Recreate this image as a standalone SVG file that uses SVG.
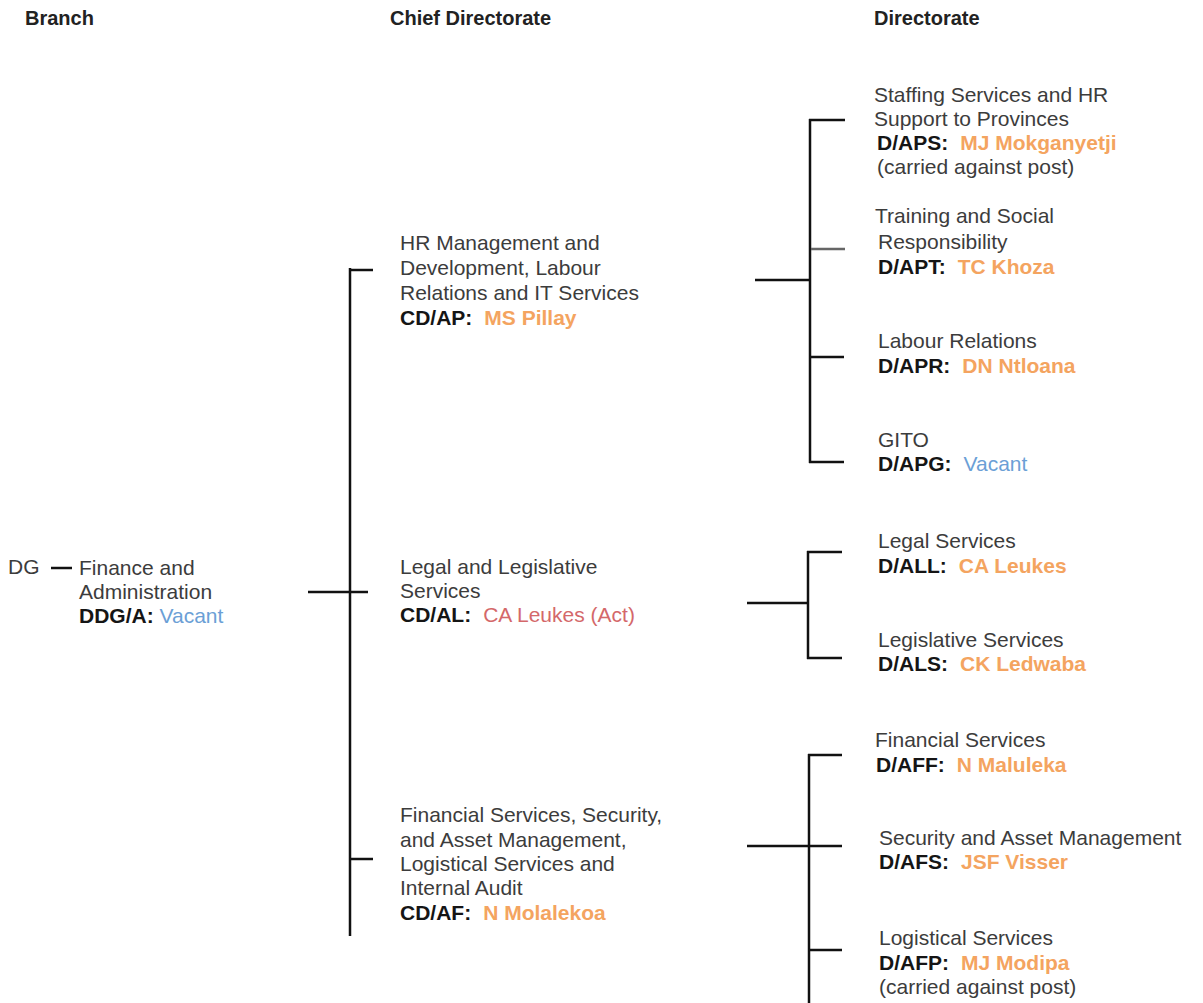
<svg xmlns="http://www.w3.org/2000/svg" width="1203" height="1003" viewBox="0 0 1203 1003">
<style>
text{font-family:"Liberation Sans",Arial,sans-serif;font-size:21px;fill:#3c3c3c}
.h{font-weight:bold;font-size:20px;fill:#222}
.c{font-weight:bold;fill:#151515}
.o{fill:#F4A460;font-weight:bold}
.b{fill:#6B9FD6}
.r{fill:#D4686A}
.ln{stroke:#111;stroke-width:2.5;fill:none}
.lg{stroke:#666;stroke-width:2.5;fill:none}
</style>
<rect width="1203" height="1003" fill="#fff"/>
<g id="headers">
<text class="h" x="25" y="25">Branch</text>
<text class="h" x="390" y="25">Chief Directorate</text>
<text class="h" x="874" y="25">Directorate</text>
</g>
<g id="connectors">
<line class="ln" x1="51" y1="568" x2="72" y2="568"/>
<line class="ln" x1="350" y1="268" x2="350" y2="936"/>
<line class="ln" x1="349" y1="270" x2="373" y2="270"/>
<line class="ln" x1="308" y1="592" x2="368" y2="592"/>
<line class="ln" x1="349" y1="859" x2="373" y2="859"/>
<line class="ln" x1="755" y1="280" x2="810" y2="280"/>
<line class="ln" x1="810" y1="119" x2="810" y2="463"/>
<line class="ln" x1="809" y1="120" x2="845" y2="120"/>
<line class="lg" x1="811" y1="249" x2="845" y2="249"/>
<line class="ln" x1="809" y1="357" x2="844" y2="357"/>
<line class="ln" x1="809" y1="462" x2="844" y2="462"/>
<line class="ln" x1="747" y1="603" x2="808" y2="603"/>
<line class="ln" x1="808" y1="551" x2="808" y2="659"/>
<line class="ln" x1="807" y1="552" x2="842" y2="552"/>
<line class="ln" x1="807" y1="658" x2="842" y2="658"/>
<line class="ln" x1="809" y1="754" x2="809" y2="1003"/>
<line class="ln" x1="808" y1="755" x2="842" y2="755"/>
<line class="ln" x1="747" y1="846" x2="842" y2="846"/>
<line class="ln" x1="808" y1="950" x2="842" y2="950"/>
</g>
<g id="dg"><text x="8" y="574">DG</text></g>
<g id="branch-fa">
<text x="79" y="575">Finance and</text>
<text x="79" y="599">Administration</text>
<text x="79" y="623"><tspan class="c">DDG/A:</tspan> <tspan class="b">Vacant</tspan></text>
</g>
<g id="cd-ap">
<text x="400" y="250">HR Management and</text>
<text x="400" y="275">Development, Labour</text>
<text x="400" y="300">Relations and IT Services</text>
<text x="400" y="325"><tspan class="c">CD/AP:</tspan><tspan class="o" dx="12">MS Pillay</tspan></text>
</g>
<g id="cd-al">
<text x="400" y="574">Legal and Legislative</text>
<text x="400" y="598">Services</text>
<text x="400" y="622"><tspan class="c">CD/AL:</tspan><tspan class="r" dx="12">CA Leukes (Act)</tspan></text>
</g>
<g id="cd-af">
<text x="400" y="822">Financial Services, Security,</text>
<text x="400" y="847">and Asset Management,</text>
<text x="400" y="871">Logistical Services and</text>
<text x="400" y="895">Internal Audit</text>
<text x="400" y="920"><tspan class="c">CD/AF:</tspan><tspan class="o" dx="12">N Molalekoa</tspan></text>
</g>
<g id="d-aps">
<text x="874" y="102">Staffing Services and HR</text>
<text x="874" y="126">Support to Provinces</text>
<text x="877" y="150"><tspan class="c">D/APS:</tspan><tspan class="o" dx="12">MJ Mokganyetji</tspan></text>
<text x="877" y="174">(carried against post)</text>
</g>
<g id="d-apt">
<text x="875" y="223">Training and Social</text>
<text x="878" y="249">Responsibility</text>
<text x="878" y="274"><tspan class="c">D/APT:</tspan><tspan class="o" dx="12">TC Khoza</tspan></text>
</g>
<g id="d-apr">
<text x="878" y="348">Labour Relations</text>
<text x="878" y="373"><tspan class="c">D/APR:</tspan><tspan class="o" dx="12">DN Ntloana</tspan></text>
</g>
<g id="d-apg">
<text x="878" y="447">GITO</text>
<text x="878" y="471"><tspan class="c">D/APG:</tspan><tspan class="b" dx="12">Vacant</tspan></text>
</g>
<g id="d-all">
<text x="878" y="548">Legal Services</text>
<text x="878" y="573"><tspan class="c">D/ALL:</tspan><tspan class="o" dx="12">CA Leukes</tspan></text>
</g>
<g id="d-als">
<text x="878" y="647">Legislative Services</text>
<text x="878" y="671"><tspan class="c">D/ALS:</tspan><tspan class="o" dx="12">CK Ledwaba</tspan></text>
</g>
<g id="d-aff">
<text x="875" y="747">Financial Services</text>
<text x="876" y="772"><tspan class="c">D/AFF:</tspan><tspan class="o" dx="12">N Maluleka</tspan></text>
</g>
<g id="d-afs">
<text x="879" y="845">Security and Asset Management</text>
<text x="879" y="869"><tspan class="c">D/AFS:</tspan><tspan class="o" dx="12">JSF Visser</tspan></text>
</g>
<g id="d-afp">
<text x="879" y="945">Logistical Services</text>
<text x="879" y="970"><tspan class="c">D/AFP:</tspan><tspan class="o" dx="12">MJ Modipa</tspan></text>
<text x="879" y="994">(carried against post)</text>
</g>
</svg>
